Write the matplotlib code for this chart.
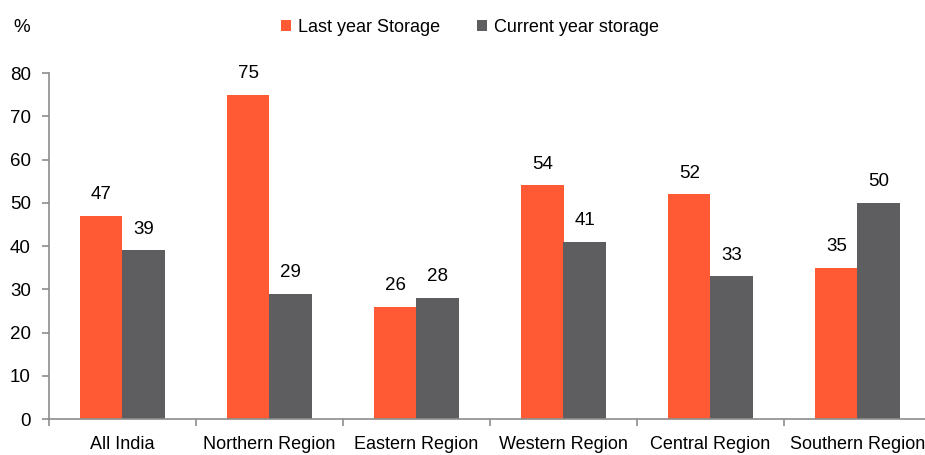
import matplotlib
matplotlib.use('Agg')
from matplotlib import pyplot as plt
import numpy as np

# data
regions = ['All India', 'Northern Region', 'Eastern Region',
           'Western Region', 'Central Region', 'Southern Region']
last_year = [47, 75, 26, 54, 52, 35]
current_year = [39, 29, 28, 41, 33, 50]

orange = '#FF5A33'
grey = '#5E5E60'
axis_grey = '#8C8C8C'

plt.rcParams['font.family'] = ['Liberation Sans', 'DejaVu Sans']
fs = 13

fig = plt.figure(figsize=(9.25, 4.55), dpi=100)
ax = fig.add_axes([49 / 925, 36 / 455, 882 / 925, 346 / 455])

x = np.arange(len(regions))
w = 0.286

b1 = ax.bar(x - w / 2, last_year, w, color=orange, label='Last year Storage')
b2 = ax.bar(x + w / 2, current_year, w, color=grey, label='Current year storage')

for bars, vals in ((b1, last_year), (b2, current_year)):
    for rect, v in zip(bars, vals):
        ax.annotate(str(v), (rect.get_x() + rect.get_width() / 2, v),
                    xytext=(0, 9), textcoords='offset points',
                    ha='center', va='bottom', fontsize=fs + 0.5)

ax.set_xlim(-0.5, len(regions) - 0.5)
ax.set_ylim(0, 80)
ax.set_yticks(range(0, 81, 10))
ax.tick_params(axis='y', labelsize=fs + 0.5, length=5, color=axis_grey, width=1.2, pad=8)

# category labels at centers, tick marks at the boundaries
ax.set_xticks(x)
ax.set_xticklabels(regions, fontsize=fs)
ax.set_xticks(np.arange(len(regions)) - 0.5, minor=True)
ax.tick_params(axis='x', which='major', length=0, pad=12)
ax.tick_params(axis='x', which='minor', length=5, color=axis_grey, width=1.2)

for s in ('top', 'right'):
    ax.spines[s].set_visible(False)
for s in ('left', 'bottom'):
    ax.spines[s].set_color(axis_grey)
    ax.spines[s].set_linewidth(1.2)

fig.text(22 / 925, 1 - 27 / 455, '%', fontsize=fs + 0.5, ha='center', va='center')
fig.legend(handles=[b1, b2], loc='center', bbox_to_anchor=(470 / 925, 1 - 27 / 455),
           ncol=2, frameon=False, fontsize=fs, handlelength=0.55, handleheight=0.55,
           handletextpad=0.4, columnspacing=2.0)

plt.savefig('out.png', dpi=100)
